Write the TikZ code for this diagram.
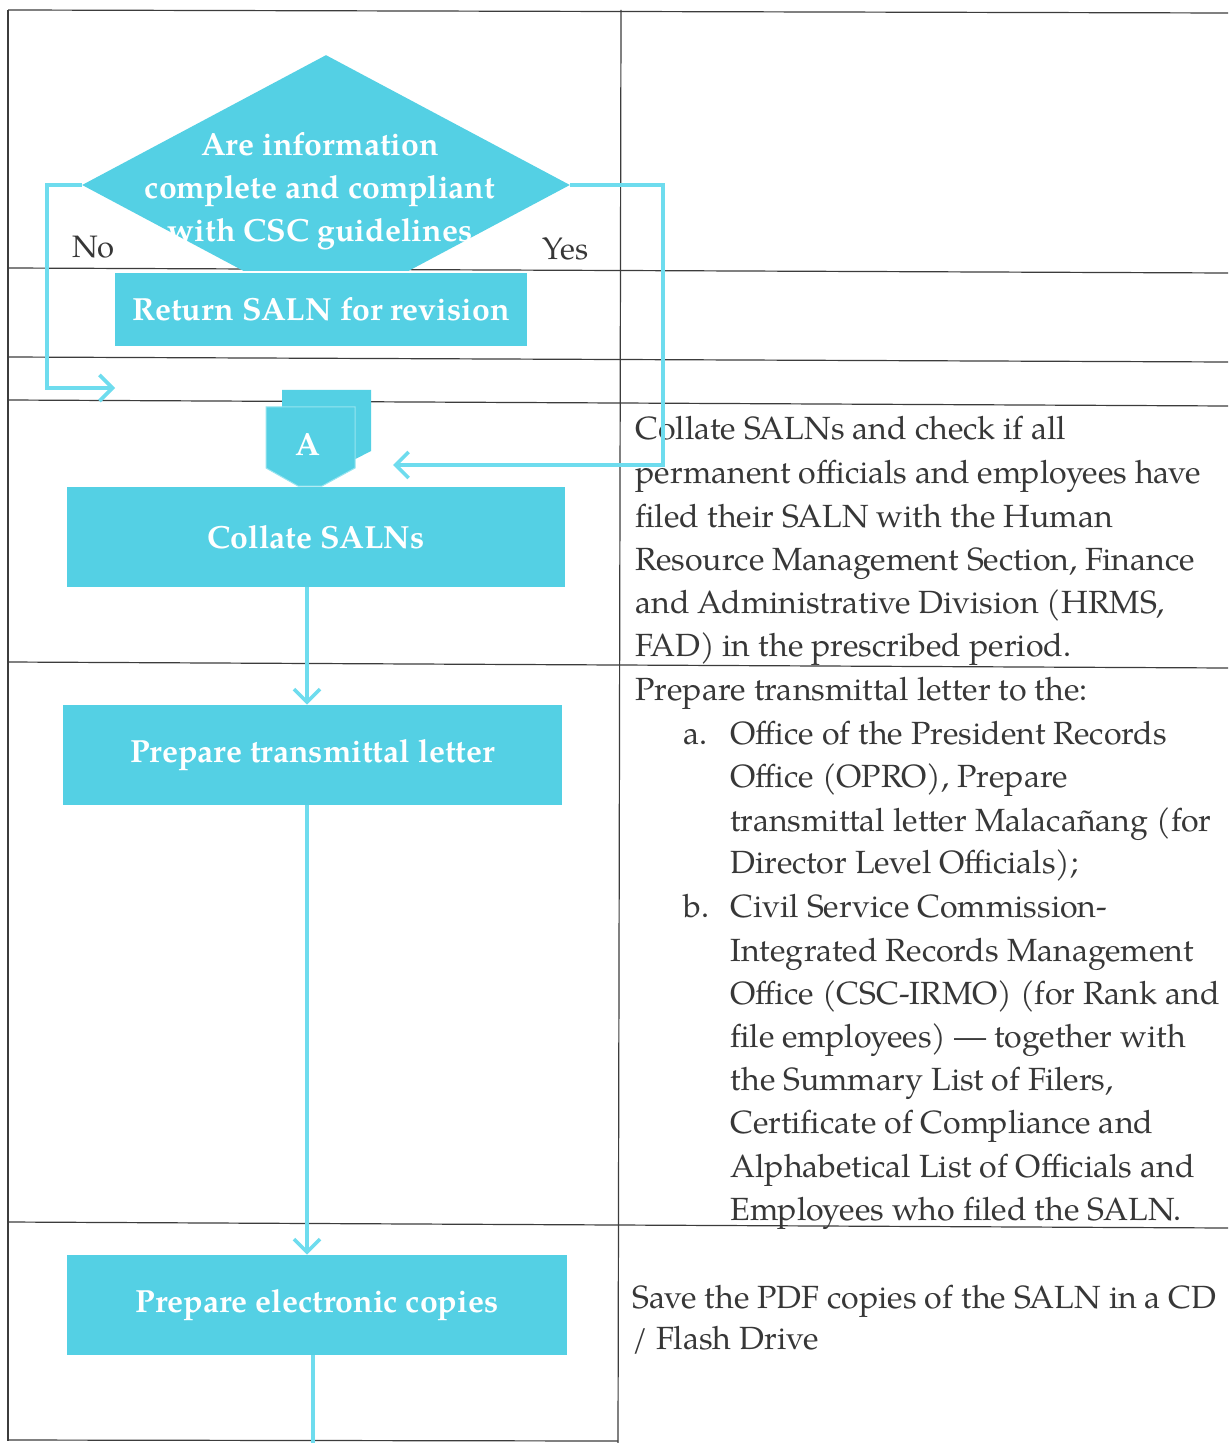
\documentclass[tikz,border=0pt]{standalone}
\usepackage{fontspec}
\setmainfont{TeX Gyre Pagella}
\usetikzlibrary{arrows.meta,shapes.geometric}
\definecolor{cy}{RGB}{84,208,228}
\definecolor{cyl}{RGB}{110,220,238}
\definecolor{cyedge}{RGB}{150,228,240}
\definecolor{ink}{RGB}{55,55,55}
\definecolor{gridc}{RGB}{60,60,60}
\begin{document}
\begin{tikzpicture}[x=0.5pt,y=-0.5pt,
  gridline/.style={draw=gridc,line width=0.6pt},
  proc/.style={fill=cy,draw=none,inner sep=0pt,text=white,
    font=\fontsize{16}{19}\selectfont\bfseries},
  conn/.style={draw=cyl,line width=1.8pt},
  tip/.style={-{Straight Barb[length=6.5pt,width=13pt,line width=1.8pt]}},
  txt/.style={anchor=base west,inner sep=0pt,text=ink,
    font=\fontsize{16.05}{18}\selectfont},
  lbl/.style={anchor=base west,inner sep=0pt,text=ink,
    font=\fontsize{15.5}{18}\selectfont}]
\useasboundingbox (0,0) rectangle (1228,1443);
\fill[white] (0,0) rectangle (1228,1443);
% table grid
\draw[gridline] (8,10) -- (1228,13);
\draw[gridline] (8,10) -- (8,1441);
\draw[gridline] (621,10) -- (618,1443);
\draw[gridline] (8,268) -- (1228,273);
\draw[gridline] (8,357) -- (1228,362);
\draw[gridline] (8,400) -- (1228,406);
\draw[gridline] (8,662) -- (1228,668);
\draw[gridline] (8,1222) -- (1228,1228);
\draw[gridline] (8,1440) -- (618,1441);
% decision diamond (bottom hidden by next row)
\begin{scope}
  \clip (0,0) rectangle (1228,270.5);
  \node[diamond,fill=cy,draw=none,inner sep=0pt,minimum width=244pt,
    minimum height=130pt] (dec) at (326,185) {};
\end{scope}
\node[align=center,inner sep=0pt,text=white,
  font=\fontsize{16}{21.5}\selectfont\bfseries] (dectext) at (320,191)
  {Are information\\complete and compliant\\with CSC guidelines};
\node[lbl] (no) at (72,258) {No};
\node[lbl] (yes) at (542,260) {Yes};
% process boxes
\node[proc,minimum width=206pt,minimum height=36.5pt] (ret) at (321,309.5) {Return SALN for revision};
\node[proc,minimum width=249pt,minimum height=50pt] (col) at (316,537) {Collate SALNs};
\node[proc,minimum width=249.5pt,minimum height=50pt] (prep) at (312.5,755) {Prepare transmittal letter};
\node[proc,minimum width=250pt,minimum height=50pt] (elec) at (317,1305) {Prepare electronic copies};
% off-page connector A (two stacked shapes)
\fill[cy] (282,390) -- (371,390) -- (371,451) -- (338,468) -- (314,468) -- (282,451) -- cycle;
\filldraw[fill=cy,draw=cyedge,line width=0.5pt] (266,407) -- (355,407) -- (355,468) -- (322,486) -- (298,486) -- (266,468) -- cycle;
\node[text=white,font=\fontsize{16}{19}\selectfont\bfseries,inner sep=0pt] (A) at (308,445) {A};
% right column text
\node[txt] (t1) at (635,439) {Collate SALNs and check if all};
\node[txt] (t2) at (635,483) {permanent officials and employees have};
\node[txt] (t3) at (635,527) {filed their SALN with the Human};
\node[txt] (t4) at (635,570) {Resource Management Section, Finance};
\node[txt] (t5) at (635,613) {and Administrative Division (HRMS,};
\node[txt] (t6) at (635,656) {FAD) in the prescribed period.};
\node[txt] (p0) at (635,700) {Prepare transmittal letter to the:};
\node[txt] (pa) at (683,744) {a.};
\node[txt] (pa1) at (730,744) {Office of the President Records};
\node[txt] (pa2) at (730,787) {Office (OPRO), Prepare};
\node[txt] (pa3) at (730,831) {transmittal letter Malacañang (for};
\node[txt] (pa4) at (730,873) {Director Level Officials);};
\node[txt] (pb) at (683,917) {b.};
\node[txt] (pb1) at (730,917) {Civil Service Commission-};
\node[txt] (pb2) at (730,961) {Integrated Records Management};
\node[txt] (pb3) at (730,1004) {Office (CSC-IRMO) (for Rank and};
\node[txt] (pb4) at (730,1047) {file employees) — together with};
\node[txt] (pb5) at (730,1090) {the Summary List of Filers,};
\node[txt] (pb6) at (730,1133) {Certificate of Compliance and};
\node[txt] (pb7) at (730,1177) {Alphabetical List of Officials and};
\node[txt] (pb8) at (730,1220) {Employees who filed the SALN.};
\node[txt] (s1) at (632,1308) {Save the PDF copies of the SALN in a CD};
\node[txt] (s2) at (632,1349) {/ Flash Drive};
% connectors
\coordinate (noend) at (115,388);
\coordinate (yesend) at (393,465);
\coordinate (down) at (313,1443);
\draw[conn,tip] (dec.west) -- (47,185) |- (noend);
\draw[conn,tip] (dec.east) -- (663,185) |- (yesend);
\draw[conn,tip] (col.south -| 307,0) -- (prep.north -| 307,0);
\draw[conn,tip] (prep.south -| 307,0) -- (elec.north -| 307,0);
\draw[conn] (elec.south -| 313,0) -- (down);
\end{tikzpicture}
\end{document}
